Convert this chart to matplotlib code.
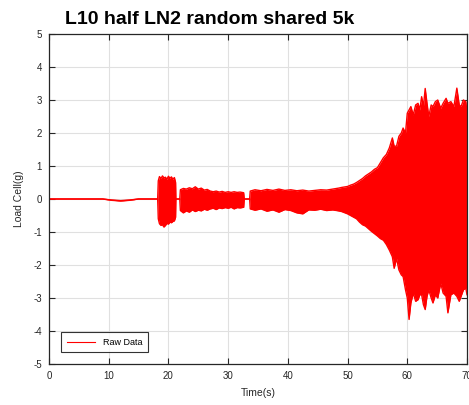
import matplotlib
matplotlib.use('Agg')
import matplotlib.pyplot as plt
import numpy as np

plt.rcParams['font.family'] = ['Liberation Sans', 'DejaVu Sans']
plt.rcParams['axes.unicode_minus'] = False

# envelope of the load cell trace (time in s, upper / lower in g)
t = [0, 9, 10.5, 12, 13.5, 15, 18.2,
     18.3, 18.5, 18.75, 19.0, 19.25, 19.5, 19.75, 20.0, 20.25, 20.5, 20.75, 21.0, 21.2,
     21.25, 21.9,
     22.0, 22.5, 23.0, 23.5, 24.0, 24.5, 25.0, 25.5, 26.0, 26.5, 27.0, 27.5, 28.0,
     28.5, 29.0, 29.5, 30.0, 30.5, 31.0, 31.5, 32.0, 32.6,
     32.7, 33.6,
     33.7, 34.5, 35.5, 36.5, 37.5, 38.5, 39.5, 40.5, 41.5, 42.5, 43.5, 44.5, 45.5,
     46.5, 47.5, 48.5, 49.0,
     50.0, 50.5, 51.0, 51.5, 52.0, 52.5, 53.0, 53.5, 54.0, 54.5, 55.0, 55.5, 56.0,
     56.5, 57.0, 57.5, 57.8, 58.2, 58.6, 59.0, 59.3, 59.7, 60.0, 60.3, 60.6, 61.0,
     61.4, 61.8, 62.1, 62.4, 62.7, 63.0, 63.3, 63.6, 64.0, 64.3, 64.7, 65.1, 65.6,
     66.0, 66.5, 66.8, 67.3, 67.8, 68.3, 68.7, 69.0, 69.4, 69.8, 70.0]
upper = [0, 0, -0.03, -0.05, -0.03, 0, 0,
         0.55, 0.68, 0.62, 0.70, 0.64, 0.66, 0.60, 0.69, 0.63, 0.67, 0.60, 0.65, 0.50,
         0, 0,
         0.28, 0.32, 0.30, 0.34, 0.31, 0.37, 0.30, 0.33, 0.27, 0.29, 0.24, 0.22, 0.24,
         0.21, 0.23, 0.20, 0.22, 0.20, 0.22, 0.20, 0.21, 0.19,
         0, 0,
         0.24, 0.28, 0.25, 0.29, 0.26, 0.30, 0.26, 0.28, 0.25, 0.27, 0.24, 0.26, 0.28,
         0.27, 0.30, 0.33, 0.35,
         0.38, 0.42, 0.45, 0.50, 0.56, 0.62, 0.70, 0.76, 0.82, 0.90, 0.95, 1.10, 1.25,
         1.35, 1.55, 1.85, 1.60, 1.60, 1.90, 2.00, 2.15, 2.00, 2.60, 2.70, 2.80, 2.55,
         2.85, 2.90, 2.70, 3.10, 2.80, 3.35, 2.90, 2.50, 2.85, 2.80, 2.95, 3.00, 2.75,
         2.90, 3.05, 2.90, 2.95, 2.80, 3.36, 2.85, 2.80, 3.00, 2.95, 2.60]
lower = [0, 0, -0.04, -0.06, -0.04, 0, 0,
         -0.60, -0.75, -0.80, -0.78, -0.85, -0.80, -0.74, -0.76, -0.70, -0.72, -0.68, -0.66, -0.55,
         0, 0,
         -0.35, -0.42, -0.36, -0.40, -0.33, -0.38, -0.34, -0.36, -0.31, -0.34, -0.30, -0.28, -0.32,
         -0.27, -0.29, -0.26, -0.28, -0.25, -0.30, -0.26, -0.27, -0.25,
         0, 0,
         -0.30, -0.34, -0.30, -0.37, -0.33, -0.40, -0.32, -0.35, -0.42, -0.45, -0.33, -0.34, -0.31,
         -0.35, -0.33, -0.36, -0.38,
         -0.45, -0.50, -0.55, -0.60, -0.70, -0.78, -0.82, -0.90, -0.98, -1.05, -1.12, -1.20, -1.25,
         -1.38, -1.55, -1.75, -2.10, -1.80, -2.15, -2.30, -2.35, -2.75, -3.00, -3.65, -3.15, -2.85,
         -3.10, -3.05, -2.90, -2.90, -3.20, -3.35, -2.95, -2.75, -3.00, -3.15, -2.90, -3.00, -2.55,
         -2.85, -2.95, -3.45, -2.90, -2.85, -2.95, -3.10, -2.95, -2.75, -2.70, -2.90]

xticks = [0, 10, 20, 30, 40, 50, 60, 70]
yticks = [-5, -4, -3, -2, -1, 0, 1, 2, 3, 4, 5]

fig = plt.figure(figsize=(4.69, 4.05), dpi=100)
ax = fig.add_axes([49/469, 1-364/405, 418/469, 330/405])

ax.fill_between(t, lower, upper, color='red', lw=0)
ax.plot(t, upper, color='red', lw=1.0, label='Raw Data')
ax.plot(t, lower, color='red', lw=1.0)

ax.set_xlim(0, 70)
ax.set_ylim(-5, 5)
ax.set_xticks(xticks)
ax.set_yticks(yticks)
ax.grid(True, color='#e0e0e0', lw=0.8)
ax.set_axisbelow(True)
ax.tick_params(direction='in', length=4, width=0.8, top=True, right=True,
               labelsize=7, colors='#262626', pad=5)
for s in ax.spines.values():
    s.set_color('#262626')
    s.set_linewidth(0.9)

ax.set_xlabel('Time(s)', fontsize=7.5, color='#262626', labelpad=5)
ax.set_ylabel('Load Cell(g)', fontsize=7.5, color='#262626', labelpad=7)
fig.text(210/469, 1-19/405, 'L10 half LN2 random shared 5k', fontsize=14,
         fontweight='bold', ha='center', va='center')

leg = ax.legend(loc='lower left', bbox_to_anchor=(0.029, 0.036), borderaxespad=0,
                fontsize=6.5, fancybox=False, edgecolor='black', handlelength=3.2,
                borderpad=0.6)
leg.get_frame().set_linewidth(0.8)
leg.legend_handles[0].set_linewidth(0.8)

fig.savefig('out.png', dpi=100)
